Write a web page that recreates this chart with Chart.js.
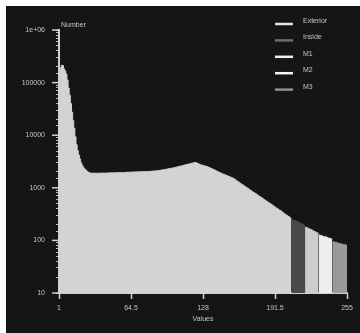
<!DOCTYPE html>
<html>
<head>
<meta charset="utf-8">
<script src="https://cdn.jsdelivr.net/npm/chart.js@4.4.1/dist/chart.umd.min.js"></script>
<style>
  html, body { margin: 0; padding: 0; background: #fff; }
  #wrap { position: absolute; left: 6px; top: 6px; width: 354px; height: 327px; background: #151515; }
</style>
</head>
<body>
<div id="wrap"><canvas id="histChart" width="354" height="327"></canvas></div>
<script>
// series names, first bin of each series and counts per bin
const seriesNames = ["Exterior", "Inside", "M1", "M2", "M3"];
const seriesStart = [1, 206, 218, 230, 242];

const exteriorCounts = [
  83000, 190000, 214000, 211000, 182000, 166000, 145000, 112000, 79000, 57500,
  40000, 27500, 19000, 13500, 9300, 6600, 5100, 4200, 3550, 3000,
  2700, 2450, 2300, 2190, 2090, 2000, 1950, 1910, 1895, 1900,
  1885, 1905, 1890, 1900, 1880, 1895, 1905, 1890, 1910, 1900,
  1915, 1895, 1910, 1920, 1905, 1925, 1915, 1930, 1920, 1935,
  1925, 1940, 1930, 1945, 1950, 1940, 1955, 1960, 1950, 1965,
  1975, 1965, 1980, 1990, 1985, 1995, 2000, 1995, 2010, 2005,
  2015, 2020, 2010, 2025, 2030, 2025, 2035, 2040, 2035, 2045,
  2050, 2060, 2070, 2080, 2090, 2100, 2115, 2125, 2140, 2155,
  2170, 2190, 2205, 2225, 2245, 2270, 2290, 2315, 2335, 2360,
  2385, 2410, 2440, 2465, 2495, 2525, 2555, 2590, 2620, 2655,
  2690, 2725, 2760, 2795, 2830, 2870, 2905, 2940, 2975, 3005,
  3034, 2965, 2897, 2825, 2754, 2716, 2679, 2642, 2606, 2570,
  2535, 2489, 2432, 2377, 2323, 2270, 2218, 2168, 2109, 2051,
  2004, 1959, 1914, 1875, 1837, 1799, 1762, 1726, 1690, 1656,
  1622, 1589, 1556, 1521, 1480, 1422, 1360, 1327, 1282, 1239,
  1197, 1156, 1117, 1079, 1042, 1007, 985, 942, 912, 881,
  840, 824, 796, 775, 745, 719, 695, 673, 650, 635,
  608, 587, 568, 545, 531, 513, 495, 484, 462, 447,
  428, 417, 403, 389, 376, 368, 351, 339, 327, 312,
  304, 293, 286, 272, 262
];
const insideCounts = [245, 242, 236, 238, 229, 224, 221, 214, 212, 205, 198, 188];
const m1Counts = [178, 176, 170, 168, 163, 160, 156, 150, 148, 143, 140, 137];
const m2Counts = [126, 125, 122, 121, 118, 116, 117, 113, 111, 110, 107, 106];
const m3Counts = [93, 94, 91, 92, 89, 88, 87, 86, 85, 83, 84, 82, 81];

const xTicks = [1, 64.5, 128, 191.5, 255];
const yMajor = [10, 100, 1000, 10000, 100000, 1000000];
const yLabels = ["10", "100", "1000", "10000", "100000", "1e+06"];
const xTitle = "Values";
const yTitle = "Number";

const fillColors = ["#d3d3d3", "#4a4a4a", "#cdcdcd", "#ededed", "#9a9a9a"];
const legendColors = ["#e4e4e4", "#6e6e6e", "#f0f0f0", "#f6f6f6", "#8e8e8e"];
const textColor = "#c4c4c4";
const axisColor = "#d0d0d0";
const font = { family: "'Liberation Sans', Arial, sans-serif", size: 7 };

// each bin's value holds until the next bin, so close every series at its end edge
const toSteps = (counts, start) => {
  const pts = counts.map((c, i) => ({ x: start + i, y: c }));
  pts.push({ x: start + counts.length, y: counts[counts.length - 1] });
  return pts;
};

const allCounts = [exteriorCounts, insideCounts, m1Counts, m2Counts, m3Counts];
const datasets = allCounts.map((counts, i) => ({
  label: seriesNames[i],
  data: toSteps(counts, seriesStart[i]),
  stepped: true,
  fill: "start",
  backgroundColor: fillColors[i],
  borderColor: fillColors[i],
  borderWidth: 1,
  pointRadius: 0,
}));

const overlayPlugin = {
  id: "overlay",
  afterDraw(chart) {
    const { ctx, chartArea, scales } = chart;
    ctx.save();
    // longer marks on the decades
    ctx.strokeStyle = axisColor;
    ctx.lineWidth = 1.5;
    yMajor.forEach((v) => {
      const y = scales.y.getPixelForValue(v);
      ctx.beginPath();
      ctx.moveTo(scales.y.right - 7, y);
      ctx.lineTo(scales.y.right, y);
      ctx.stroke();
    });
    ctx.font = "7px 'Liberation Sans', Arial, sans-serif";
    ctx.fillStyle = textColor;
    ctx.textAlign = "left";
    ctx.textBaseline = "middle";
    ctx.fillText(yTitle, chartArea.left + 2, chartArea.top - 5);
    // legend, top right inside the plot
    chart.data.datasets.forEach((ds, i) => {
      const y = chartArea.top - 6 + i * 16.4;
      ctx.strokeStyle = legendColors[i];
      ctx.lineWidth = 2.5;
      ctx.beginPath();
      ctx.moveTo(chartArea.right - 72, y);
      ctx.lineTo(chartArea.right - 54, y);
      ctx.stroke();
      ctx.fillText(ds.label, chartArea.right - 44, y - 3);
    });
    ctx.restore();
  },
};

const ctx = document.getElementById("histChart").getContext("2d");
const chart = new Chart(ctx, {
  type: "line",
  data: { datasets: datasets },
  plugins: [overlayPlugin],
  options: {
    responsive: false,
    animation: false,
    layout: { padding: { left: 0, top: 24, right: 13, bottom: 0 } },
    plugins: {
      legend: { display: false },
      tooltip: { enabled: false },
    },
    scales: {
      x: {
        type: "linear",
        min: 1,
        max: 255,
        z: 1,
        border: { color: axisColor, width: 2 },
        grid: { drawOnChartArea: false, tickLength: 6, tickColor: axisColor, tickWidth: 1.5 },
        ticks: {
          autoSkip: false,
          maxRotation: 0,
          padding: 5,
          color: textColor,
          font: font,
          callback: (v) => String(v),
        },
        afterBuildTicks: (scale) => {
          scale.ticks = xTicks.map((v) => ({ value: v }));
        },
        afterFit: (scale) => {
          scale.height = 40;
        },
        title: {
          display: true,
          text: xTitle,
          color: textColor,
          font: font,
          padding: { top: 0, bottom: 10 },
        },
      },
      y: {
        type: "logarithmic",
        min: 10,
        max: 1000000,
        z: 1,
        border: { color: axisColor, width: 2 },
        grid: { drawOnChartArea: false, tickLength: 3, tickColor: "#b8b8b8", tickWidth: 1 },
        ticks: {
          autoSkip: false,
          padding: 11,
          color: textColor,
          font: font,
          callback: (v) => {
            const idx = yMajor.indexOf(v);
            return idx >= 0 ? yLabels[idx] : "";
          },
        },
        afterFit: (scale) => {
          scale.width = 53;
        },
      },
    },
  },
});
</script>
</body>
</html>
